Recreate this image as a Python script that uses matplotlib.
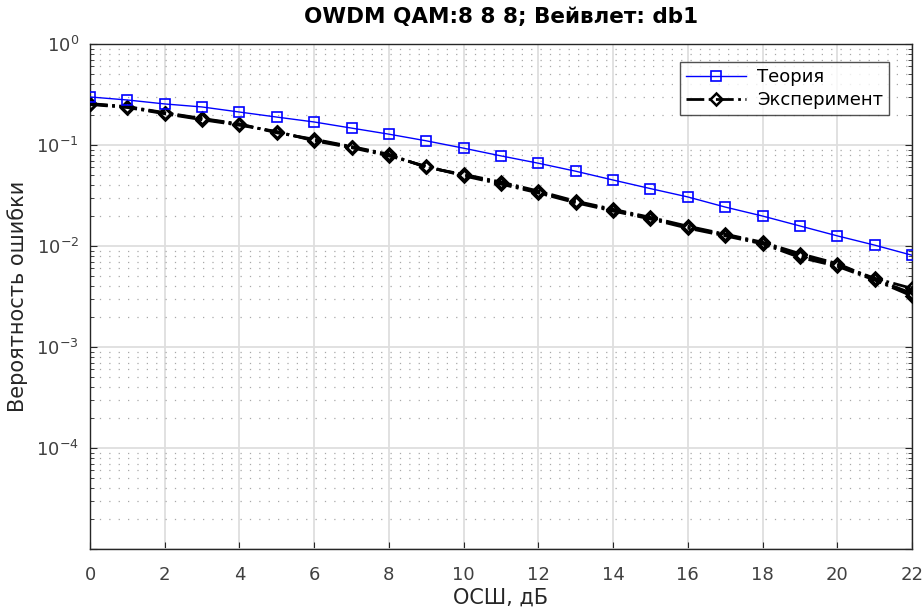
import matplotlib
matplotlib.use("Agg")
import matplotlib.pyplot as plt
import numpy as np
from matplotlib.ticker import LogLocator, NullFormatter, FixedLocator, FuncFormatter

plt.rcParams['font.family'] = ['DejaVu Sans']

snr = list(range(0, 23))
theory = [0.299, 0.279, 0.255, 0.238, 0.212, 0.189, 0.169, 0.147, 0.128, 0.110,
          0.093, 0.078, 0.066, 0.055, 0.045, 0.037, 0.0306, 0.0243, 0.0198,
          0.0158, 0.0126, 0.0102, 0.0081]
exp_a = [0.255, 0.238, 0.207, 0.181, 0.160, 0.134, 0.112, 0.0955, 0.0796, 0.0606,
         0.0505, 0.0421, 0.0343, 0.0273, 0.0227, 0.0189, 0.0154, 0.0129, 0.0107,
         0.0081, 0.0065, 0.0048, 0.0038]
exp_b = [0.252, 0.235, 0.204, 0.178, 0.157, 0.136, 0.110, 0.0940, 0.0780, 0.0615,
         0.0495, 0.0410, 0.0335, 0.0268, 0.0222, 0.0185, 0.0150, 0.0126, 0.0105,
         0.0077, 0.0063, 0.0046, 0.0032]
exp_c = [0.257, 0.240, 0.209, 0.183, 0.162, 0.132, 0.114, 0.0965, 0.0810, 0.0600,
         0.0512, 0.0430, 0.0350, 0.0278, 0.0231, 0.0192, 0.0157, 0.0131, 0.0109,
         0.0084, 0.0067, 0.0047, 0.0034]

fig = plt.figure(figsize=(9.24, 6.10), dpi=100)
ax = fig.add_axes([90/924, 61/610, 822/924, 505/610])

ax.semilogy(snr, theory, color='#0000ff', lw=1.0, marker='s', ms=7,
            mfc='none', mec='#0000ff', mew=1.2, label='Теория', zorder=4)
for i, s in enumerate([exp_a, exp_b, exp_c]):
    ax.semilogy(snr, s, color='black', lw=2.0, ls='-.', marker='D', ms=6.5,
                mfc='none', mec='black', mew=1.8,
                label='Эксперимент' if i == 0 else None, zorder=3)

ax.set_xlim(0, 22)
ax.set_ylim(1e-5, 1)
ax.xaxis.set_major_locator(FixedLocator(list(range(0, 23, 2))))
ax.yaxis.set_major_locator(LogLocator(base=10, numticks=10))
ax.yaxis.set_minor_locator(LogLocator(base=10, subs=range(2, 10), numticks=10))
ax.yaxis.set_minor_formatter(NullFormatter())


def yfmt(v, pos):
    e = int(round(np.log10(v)))
    if e <= -5:
        return ''
    return '$\\mathregular{10^{%d}}$' % e


ax.yaxis.set_major_formatter(FuncFormatter(yfmt))

ax.grid(True, which='major', color='#dedede', lw=1.3, ls='-')
ax.grid(True, which='minor', axis='y', color='#a8a8a8', lw=0.9, ls=(0, (1, 6.5)))
ax.set_axisbelow(True)

for sp in ax.spines.values():
    sp.set_color('#262626')
    sp.set_linewidth(1.0)
ax.tick_params(which='both', direction='in', colors='#262626', labelcolor='#404040',
               labelsize=13, top=False, right=True)
ax.tick_params(which='major', length=5)
ax.tick_params(which='minor', length=3)
ax.tick_params(axis='x', pad=12)
ax.tick_params(axis='y', pad=8)

ax.set_title('OWDM QAM:8 8 8; Вейвлет: db1', fontsize=15.5, fontweight='bold', pad=15)
ax.set_xlabel('ОСШ, дБ', fontsize=15, color='#262626', labelpad=3)
ax.set_ylabel('Вероятность ошибки', fontsize=15, color='#262626', labelpad=6)

leg = ax.legend(loc='upper right', bbox_to_anchor=(0.972, 0.964), fontsize=13,
                frameon=True, fancybox=False, edgecolor='#262626', borderaxespad=0,
                handlelength=3.3, borderpad=0.35, labelspacing=0.25, handletextpad=0.6)
leg.get_frame().set_linewidth(1.0)

fig.savefig('out.png', dpi=100)
